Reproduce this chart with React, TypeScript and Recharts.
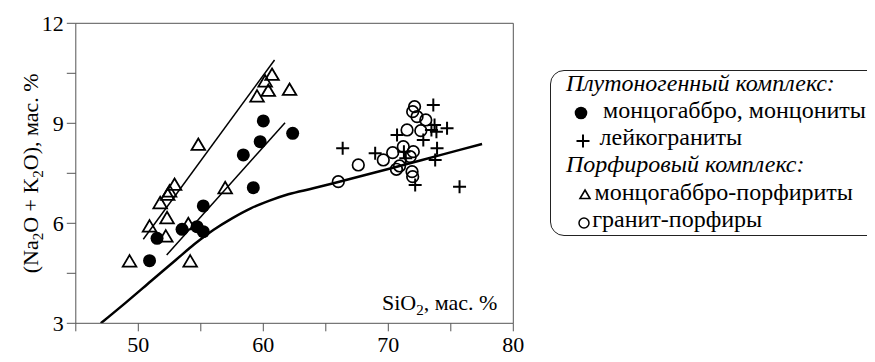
import React from "react";
import {
  ComposedChart,
  XAxis,
  YAxis,
  Scatter,
  Line,
  ReferenceLine,
} from "recharts";

// ---- data ----
const filledCircles: [number, number][] = [
  [50.9, 4.88], [51.5, 5.55], [53.5, 5.82], [54.7, 5.9], [55.2, 5.75],
  [55.2, 6.52], [58.4, 8.05], [59.2, 7.07], [59.75, 8.45], [60.0, 9.07],
  [62.35, 8.7],
];
const leucogranites: [number, number][] = [
  [66.35, 8.25], [68.95, 8.1], [70.7, 8.65], [71.25, 8.15], [71.4, 7.95],
  [72.8, 8.5], [73.6, 9.55], [73.7, 8.95], [73.85, 8.75], [74.7, 8.85],
  [73.45, 8.8], [73.9, 8.25], [73.75, 7.9], [72.15, 7.15], [75.7, 7.1],
];
const porphyrites: [number, number][] = [
  [49.3, 4.85], [50.9, 5.9], [51.75, 6.6], [52.3, 6.15], [52.2, 5.6],
  [52.35, 6.85], [52.5, 6.95], [52.9, 7.15], [54.0, 5.97], [54.15, 4.85],
  [54.8, 8.35], [56.95, 7.05], [59.5, 9.8], [60.15, 10.25], [60.4, 9.97],
  [60.7, 10.45], [62.1, 10.0],
];
const granitePorphyry: [number, number][] = [
  [66.0, 7.25], [67.6, 7.75], [69.6, 7.9], [70.35, 8.12], [70.65, 7.62],
  [70.9, 7.72], [71.2, 8.3], [71.75, 8.0], [72.0, 8.15], [71.9, 7.55],
  [71.95, 7.4], [71.5, 8.8], [72.6, 8.78], [72.1, 9.5], [71.95, 9.35],
  [72.3, 9.2], [73.0, 9.1],
];
const trendPorphyrite: [number, number][] = [[50.4, 5.52], [60.9, 10.9]];
const trendPlutonic: [number, number][] = [[52.27, 5.05], [61.74, 9.02]];
const boundaryCurve: [number, number][] = [
  [47, 3.0], [49, 3.62], [51, 4.26], [53, 4.9], [54.5, 5.38], [56, 5.8],
  [57.5, 6.15], [59, 6.45], [60.5, 6.68], [62, 6.87], [64, 7.05], [66, 7.24],
  [70, 7.63], [74, 8.03], [77.5, 8.38],
];
const xTicks = [45, 50, 55, 60, 65, 70, 75, 80];
const xTickLabels = [50, 60, 70, 80];
const yTicks = [3, 4.5, 6, 7.5, 9, 10.5, 12];
const yTickLabels = [3, 6, 9, 12];

const legendHeader1 = "Плутоногенный комплекс:";
const legendItem1 = "монцогаббро, монцониты";
const legendItem2 = "лейкограниты";
const legendHeader2 = "Порфировый комплекс:";
const legendItem3 = "монцогаббро-порфириты";
const legendItem4 = "гранит-порфиры";

const toPts = (a: [number, number][]) => a.map(([x, y]) => ({ x, y }));

const FONT = "Liberation Serif";
const AXIS = "#555";

const FilledDot = (p: any) => <circle cx={p.cx} cy={p.cy} r={6.5} fill="#000" />;
const PlusDot = (p: any) => (
  <g stroke="#000" strokeWidth={2}>
    <line x1={p.cx - 6.5} y1={p.cy} x2={p.cx + 6.5} y2={p.cy} />
    <line x1={p.cx} y1={p.cy - 6.5} x2={p.cx} y2={p.cy + 6.5} />
  </g>
);
const TriDot = (p: any) => (
  <path
    d={`M${p.cx},${p.cy - 6.5} L${p.cx + 6.8},${p.cy + 5} L${p.cx - 6.8},${p.cy + 5} Z`}
    fill="none"
    stroke="#000"
    strokeWidth={1.8}
  />
);
const OpenDot = (p: any) => (
  <circle cx={p.cx} cy={p.cy} r={5.8} fill="none" stroke="#000" strokeWidth={1.7} />
);

const YLabel = (props: any) => {
  const vb = props.viewBox || {};
  const cx = 30;
  const cy = vb.y + vb.height / 2;
  return (
    <text
      transform={`translate(${cx},${cy}) rotate(-90)`}
      textAnchor="middle"
      fontSize={22}
      fontFamily={FONT}
      fill="#000"
    >
      (Na<tspan dy={5} fontSize={15}>2</tspan>
      <tspan dy={-5}>O + K</tspan>
      <tspan dy={5} fontSize={15}>2</tspan>
      <tspan dy={-5}>O), мас. %</tspan>
    </text>
  );
};

const XLabel = (props: any) => {
  const vb = props.viewBox || {};
  const x = vb.x + vb.width - 16;
  const y = vb.y - 13;
  return (
    <text x={x} y={y} textAnchor="end" fontSize={22} fontFamily={FONT} fill="#000">
      SiO<tspan dy={5} fontSize={15}>2</tspan>
      <tspan dy={-5}>, мас. %</tspan>
    </text>
  );
};

const rowH = 27.3;
const LegendRow = ({ children, marker, mx, tx, italic }: any) => (
  <div style={{ position: "relative", height: rowH, lineHeight: `${rowH}px`, whiteSpace: "nowrap" }}>
    {marker && (
      <svg width={16} height={16} style={{ position: "absolute", left: mx - 8, top: 15.2 - 8 }}>
        {marker}
      </svg>
    )}
    <span style={{ position: "absolute", left: tx, top: -1.5, fontStyle: italic ? "italic" : "normal" }}>
      {children}
    </span>
  </div>
);

export default function App() {
  return (
    <div style={{ position: "relative", width: 867, height: 354, overflow: "hidden", background: "#fff" }}>
      <ComposedChart
        width={867}
        height={354}
        margin={{ top: 15.3, right: 361.7, bottom: 8.7, left: 7.8 }}
      >
        <XAxis
          type="number"
          dataKey="x"
          domain={[45, 80]}
          ticks={xTicks}
          allowDataOverflow
          height={30}
          tickSize={8}
          tickMargin={5}
          stroke={AXIS}
          tickLine={{ stroke: AXIS }}
          tick={{ fontSize: 22, fill: "#000", fontFamily: FONT }}
          tickFormatter={(v: number) => (xTickLabels.includes(v) ? String(v) : "")}
          interval={0}
          label={<XLabel />}
        />
        <YAxis
          type="number"
          dataKey="y"
          domain={[3, 12]}
          ticks={yTicks}
          allowDataOverflow
          width={60}
          tickSize={9}
          tickMargin={3}
          stroke={AXIS}
          tickLine={{ stroke: AXIS }}
          tick={{ fontSize: 22, fill: "#000", fontFamily: FONT }}
          tickFormatter={(v: number) => (yTickLabels.includes(v) ? String(v) : "")}
          interval={0}
          label={<YLabel />}
        />
        <ReferenceLine y={12} stroke={AXIS} strokeWidth={1} />
        <ReferenceLine x={80} stroke={AXIS} strokeWidth={1} />
        <Line data={toPts(boundaryCurve)} dataKey="y" type="monotone" stroke="#000" strokeWidth={2.5} dot={false} isAnimationActive={false} />
        <Line data={toPts(trendPorphyrite)} dataKey="y" type="linear" stroke="#000" strokeWidth={1.5} dot={false} isAnimationActive={false} />
        <Line data={toPts(trendPlutonic)} dataKey="y" type="linear" stroke="#000" strokeWidth={1.5} dot={false} isAnimationActive={false} />
        <Scatter data={toPts(porphyrites)} dataKey="y" shape={<TriDot />} isAnimationActive={false} />
        <Scatter data={toPts(filledCircles)} dataKey="y" shape={<FilledDot />} isAnimationActive={false} />
        <Scatter data={toPts(granitePorphyry)} dataKey="y" shape={<OpenDot />} isAnimationActive={false} />
        <Scatter data={toPts(leucogranites)} dataKey="y" shape={<PlusDot />} isAnimationActive={false} />
      </ComposedChart>

      <div
        style={{
          position: "absolute",
          left: 542,
          top: 62,
          width: 500,
          height: 164,
          border: "1.5px solid #222",
          borderRadius: 14,
          fontFamily: FONT,
          fontSize: 24,
          color: "#000",
        }}
      >
        <LegendRow tx={15} italic>{legendHeader1}</LegendRow>
        <LegendRow tx={52} mx={30.2} marker={<circle cx={8} cy={8} r={6.3} fill="#000" />}>
          {legendItem1}
        </LegendRow>
        <LegendRow tx={48.5} mx={31.5} marker={<g stroke="#000" strokeWidth={2}><line x1={1.5} y1={8} x2={14.5} y2={8} /><line x1={8} y1={1.5} x2={8} y2={14.5} /></g>}>
          {legendItem2}
        </LegendRow>
        <LegendRow tx={15} italic>{legendHeader2}</LegendRow>
        <LegendRow tx={43.5} mx={33.5} marker={<path d="M8,3 L13,11.5 L3,11.5 Z" fill="none" stroke="#000" strokeWidth={1.6} />}>
          {legendItem3}
        </LegendRow>
        <LegendRow tx={41.2} mx={33} marker={<circle cx={8} cy={8} r={5} fill="none" stroke="#000" strokeWidth={1.5} />}>
          {legendItem4}
        </LegendRow>
      </div>
    </div>
  );
}
